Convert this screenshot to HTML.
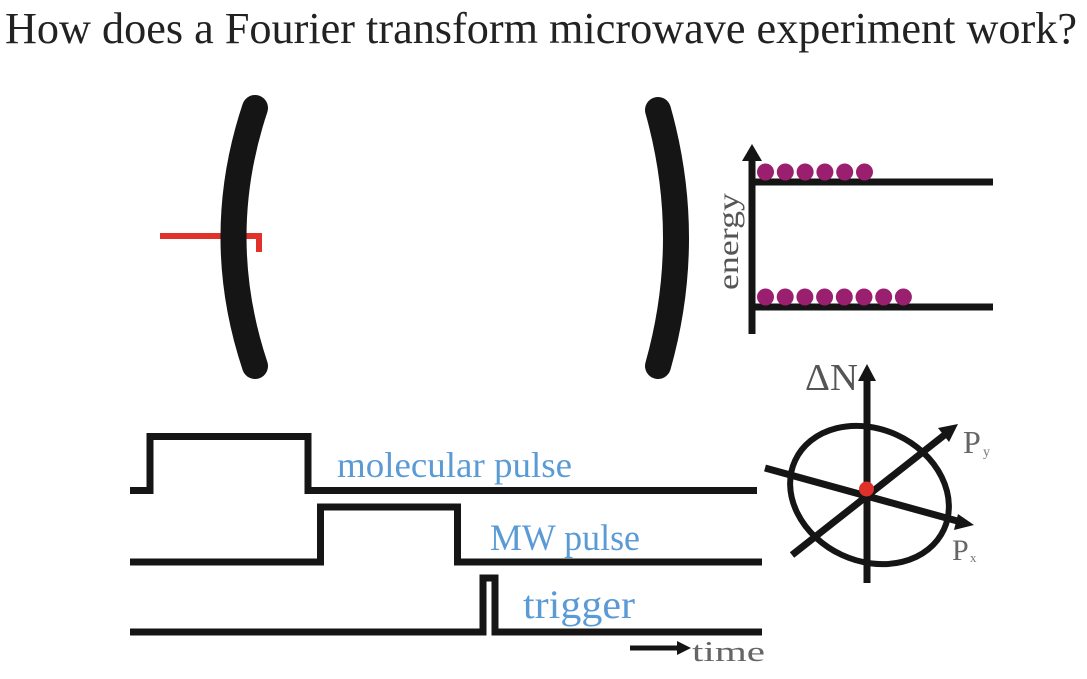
<!DOCTYPE html>
<html>
<head>
<meta charset="utf-8">
<style>
  html, body { margin: 0; padding: 0; background: #ffffff; }
  svg { display: block; }
</style>
</head>
<body>
<svg width="1087" height="679" viewBox="0 0 1087 679" xmlns="http://www.w3.org/2000/svg" font-family="'Liberation Serif', 'DejaVu Serif', serif">
  <rect width="1087" height="679" fill="#ffffff"/>

  <!-- Title -->
  <text x="5" y="43" font-family="'Liberation Serif', serif" font-size="44" fill="#222222" textLength="1072" lengthAdjust="spacingAndGlyphs">How does a Fourier transform microwave experiment work?</text>

  <!-- red antenna -->
  <path d="M160 236 H259 V252" fill="none" stroke="#e0322b" stroke-width="6"/>

  <!-- mirrors -->
  <path d="M255 108 Q212 237 255 366" fill="none" stroke="#151515" stroke-width="26" stroke-linecap="round"/>
  <path d="M658 110 Q694 238 658 366" fill="none" stroke="#151515" stroke-width="26" stroke-linecap="round"/>

  <!-- energy diagram -->
  <line x1="752" y1="334" x2="752" y2="156" stroke="#151515" stroke-width="7"/>
  <polygon points="752,144 742,161 762,161" fill="#151515"/>
  <line x1="752" y1="182" x2="993" y2="182" stroke="#151515" stroke-width="7"/>
  <line x1="752" y1="307" x2="993" y2="307" stroke="#151515" stroke-width="7"/>
  <g fill="#9b1f6f">
    <circle cx="765.5" cy="172" r="8.5"/>
    <circle cx="785.3" cy="172" r="8.5"/>
    <circle cx="805.1" cy="172" r="8.5"/>
    <circle cx="824.9" cy="172" r="8.5"/>
    <circle cx="844.7" cy="172" r="8.5"/>
    <circle cx="864.5" cy="172" r="8.5"/>

    <circle cx="765.5" cy="297" r="8.5"/>
    <circle cx="785.2" cy="297" r="8.5"/>
    <circle cx="804.9" cy="297" r="8.5"/>
    <circle cx="824.6" cy="297" r="8.5"/>
    <circle cx="844.3" cy="297" r="8.5"/>
    <circle cx="864.0" cy="297" r="8.5"/>
    <circle cx="883.7" cy="297" r="8.5"/>
    <circle cx="903.4" cy="297" r="8.5"/>
  </g>
  <text transform="translate(738,290) rotate(-90)" x="0" y="0" font-family="'Liberation Serif', serif" font-size="30" fill="#555555" textLength="97" lengthAdjust="spacingAndGlyphs">energy</text>

  <!-- pulse sequences -->
  <path d="M130 490.5 H150 V436.5 H308 V490.5 H757" fill="none" stroke="#151515" stroke-width="7"/>
  <path d="M130 562 H320.5 V507 H457.5 V562 H762" fill="none" stroke="#151515" stroke-width="7"/>
  <path d="M130 632 H483 V578 H495 V632 H762" fill="none" stroke="#151515" stroke-width="7"/>

  <text x="337" y="477" font-family="'Liberation Serif', serif" font-size="36" fill="#5b9bd5" textLength="235" lengthAdjust="spacingAndGlyphs">molecular pulse</text>
  <text x="490" y="550" font-family="'Liberation Serif', serif" font-size="37" fill="#5b9bd5" textLength="150" lengthAdjust="spacingAndGlyphs">MW pulse</text>
  <text x="523" y="618" font-family="'Liberation Serif', serif" font-size="40" fill="#5b9bd5" textLength="112" lengthAdjust="spacingAndGlyphs">trigger</text>

  <!-- time arrow -->
  <line x1="630" y1="648" x2="680" y2="648" stroke="#151515" stroke-width="5"/>
  <polygon points="691,648 677,641 677,655" fill="#151515"/>
  <text x="692" y="661" font-family="'Liberation Serif', serif" font-size="28" fill="#666666" textLength="73" lengthAdjust="spacingAndGlyphs">time</text>

  <!-- phase diagram -->
  <ellipse cx="869.5" cy="495" rx="82" ry="66" transform="rotate(25 869.5 495)" fill="none" stroke="#151515" stroke-width="6"/>
  <line x1="867" y1="583" x2="867" y2="378" stroke="#151515" stroke-width="7"/>
  <polygon points="867,364 858,381 876,381" fill="#151515"/>
  <line x1="792" y1="555" x2="947" y2="433" stroke="#151515" stroke-width="7"/>
  <polygon points="958,424 938,428 949,442" fill="#151515"/>
  <line x1="765" y1="468" x2="961" y2="522" stroke="#151515" stroke-width="7"/>
  <polygon points="974,525 958,514 954,530" fill="#151515"/>
  <circle cx="866.5" cy="489" r="7.5" fill="#e0302a"/>

  <text x="805" y="390" font-family="'Liberation Serif', serif" font-size="38" fill="#555555" textLength="53" lengthAdjust="spacingAndGlyphs">ΔN</text>
  <text x="963" y="453" font-family="'Liberation Serif', serif" font-size="32" fill="#666666">P</text>
  <text x="983" y="456" font-family="'Liberation Serif', serif" font-size="14" fill="#777777">y</text>
  <text x="952" y="560" font-family="'Liberation Serif', serif" font-size="30" fill="#666666">P</text>
  <text x="970" y="562" font-family="'Liberation Serif', serif" font-size="13" fill="#777777">x</text>
</svg>
</body>
</html>
